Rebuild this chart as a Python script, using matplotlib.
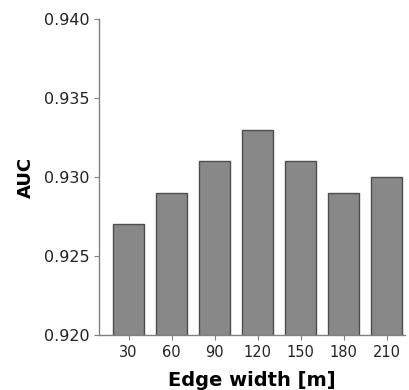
import matplotlib
matplotlib.use('Agg')
import matplotlib.pyplot as plt
import numpy as np

edge_width = ['30', '60', '90', '120', '150', '180', '210']
auc = [0.927, 0.929, 0.931, 0.933, 0.931, 0.929, 0.930]
yticks = [0.920, 0.925, 0.930, 0.935, 0.940]

plt.rcParams['font.family'] = 'DejaVu Sans'

fig = plt.figure(figsize=(4.1, 3.9), dpi=100)
ax = fig.add_axes([0.2415, 0.141, 0.746, 0.81])

x = np.arange(len(edge_width))
ax.bar(x, auc, width=0.72, color='#888888', edgecolor='#4d4d4d', linewidth=1.0)

ax.set_xlim(-0.685, 6.42)
ax.set_ylim(0.920, 0.940)
ax.set_xticks(x)
ax.set_xticklabels(edge_width)
ax.set_yticks(yticks)
ax.set_yticklabels([f'{v:.3f}' for v in yticks])

for s in ['top', 'right']:
    ax.spines[s].set_visible(False)
for s in ['left', 'bottom']:
    ax.spines[s].set_color('#808080')
    ax.spines[s].set_linewidth(1.0)

ax.tick_params(axis='y', labelsize=11.5, colors='#808080', labelcolor='#222222', length=3.5)
ax.tick_params(axis='x', labelsize=10.5, colors='#808080', labelcolor='#222222', length=3.5)

ax.set_xlabel('Edge width [m]', fontsize=14, fontweight='bold', labelpad=8)
ax.set_ylabel('AUC', fontsize=13, fontweight='bold', labelpad=6)

fig.savefig('out.png', dpi=100)
